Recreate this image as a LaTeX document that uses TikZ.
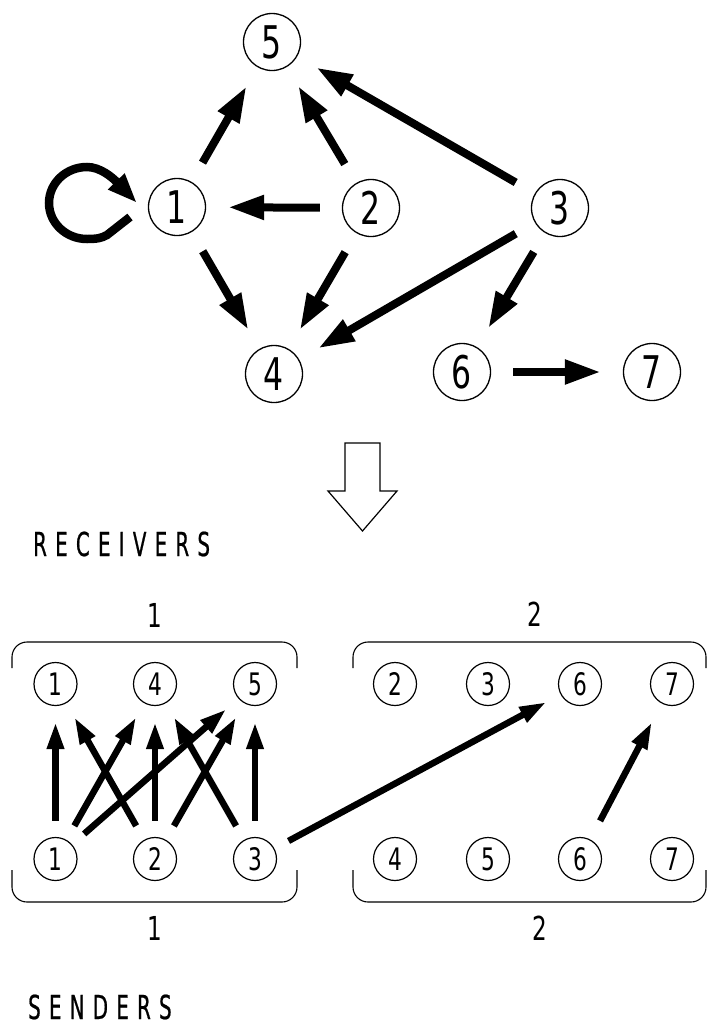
\documentclass[tikz,border=0pt]{standalone}
\usepackage{fontspec}
\setmainfont{DejaVu Sans}[FakeStretch=0.7]
\newfontfamily\spacedfont{DejaVu Sans}[FakeStretch=0.6,LetterSpace=25,FakeBold=0.6]
\usetikzlibrary{arrows.meta}
\begin{document}
\begin{tikzpicture}[x=1pt,y=-1pt,
  big/.style={circle,draw,line width=1.3pt,minimum size=57pt,inner sep=0pt,font=\fontsize{45}{45}\selectfont},
  small/.style={circle,draw,line width=1.2pt,minimum size=43pt,inner sep=0pt,font=\fontsize{31}{31}\selectfont},
  bigarr/.style={line width=8pt,-{Triangle[length=36pt,width=23pt]},shorten >=22pt,shorten <=22pt},
  smallarr/.style={line width=6.5pt,-{Triangle[length=27pt,width=16pt]},shorten >=16pt,shorten <=16pt},
  bracket/.style={line width=1.1pt,rounded corners=15pt},
  lab/.style={inner sep=0pt,font=\fontsize{33}{33}\selectfont},
  title/.style={inner sep=0pt,anchor=base west,font=\spacedfont\fontsize{33}{33}\selectfont}]
\useasboundingbox (0,0) rectangle (708,1026);
% top graph
\node[big] (n5) at (272,42) {5};
\node[big] (n1) at (177,207) {1};
\node[big] (n2) at (371,208) {2};
\node[big] (n3) at (560,208) {3};
\node[big] (n4) at (274,374) {4};
\node[big] (n6) at (462,372) {6};
\node[big] (n7) at (652,372) {7};
\draw[bigarr] (n1) -- (n5);
\draw[bigarr] (n2) -- (n5);
\draw[bigarr] (n3) -- (n5);
\draw[bigarr] (n2) -- (n1);
\draw[bigarr] (n1) -- (n4);
\draw[bigarr] (n2) -- (n4);
\draw[bigarr] (n3) -- (n4);
\draw[bigarr] (n3) -- (n6);
\draw[bigarr] (n6) -- (n7);
\begin{scope}[shift={(n1)}]
\draw[line width=8.5pt,-{Triangle[length=30pt,width=21pt]}]
  (-47,10) -- (-70,28) .. controls (-75,31) and (-80,32) .. (-90,32)
  arc[start angle=90,end angle=270,x radius=38,y radius=36]
  .. controls (-77,-40) and (-65,-30) .. (-40,-4);
\end{scope}
% hollow arrow
\draw[line width=1.2pt,line join=miter] (345,443) -- (345,491) -- (328,491) -- (362.5,531) -- (397,491) -- (380,491) -- (380,443) -- cycle;
% titles
\node[title] (rec) at (33,556) {RECEIVERS};
\node[title] (sen) at (28,1019) {SENDERS};
% group labels
\node[lab] (g1t) at (155,615) {1};
\node[lab] (g2t) at (535,614) {2};
\node[lab] (g1b) at (155,928) {1};
\node[lab] (g2b) at (540,928) {2};
% brackets
\draw[bracket] (12,668) -- (12,642) -- (297,642) -- (297,668);
\draw[bracket] (12,870) -- (12,902) -- (297,902) -- (297,870);
\draw[bracket] (353,668) -- (353,642) -- (706,642) -- (706,668);
\draw[bracket] (353,870) -- (353,902) -- (706,902) -- (706,870);
% receivers
\node[small] (r1) at (55.5,684) {1};
\node[small] (r4) at (155,684) {4};
\node[small] (r5) at (255,684) {5};
\node[small] (r2) at (395,684) {2};
\node[small] (r3) at (488,684) {3};
\node[small] (r6) at (580,684) {6};
\node[small] (r7) at (672,684) {7};
% senders
\node[small] (s1) at (55.5,859) {1};
\node[small] (s2) at (155,859) {2};
\node[small] (s3) at (255,859) {3};
\node[small] (s4) at (395,859) {4};
\node[small] (s5) at (488,859) {5};
\node[small] (s6) at (580,859) {6};
\node[small] (s7) at (672,859) {7};
\draw[smallarr] (s1) -- (r1);
\draw[smallarr] (s1) -- (r4);
\draw[smallarr] (s1) -- (r5);
\draw[smallarr] (s2) -- (r1);
\draw[smallarr] (s2) -- (r4);
\draw[smallarr] (s2) -- (r5);
\draw[smallarr] (s3) -- (r4);
\draw[smallarr] (s3) -- (r5);
\draw[smallarr] (s3) -- (r6);
\draw[smallarr,shorten >=21pt,shorten <=21pt] (s6) -- (r7);
\end{tikzpicture}
\end{document}
